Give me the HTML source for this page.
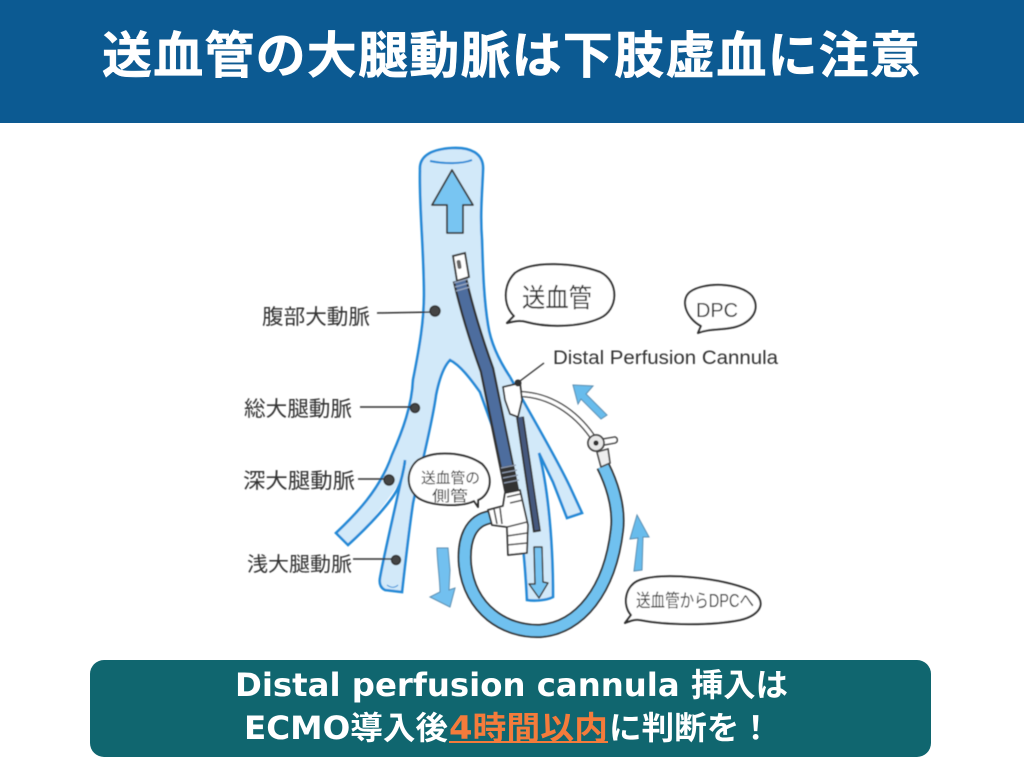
<!DOCTYPE html>
<html lang="ja">
<head>
<meta charset="utf-8">
<style>
html,body{margin:0;padding:0;background:#fff;width:1024px;height:768px;overflow:hidden}
svg{display:block}
.hand{font-family:"Liberation Sans","Noto Sans CJK JP",sans-serif;fill:#333;font-weight:400}
.ti{font-family:"Liberation Sans","Noto Sans CJK JP",sans-serif;font-weight:700;fill:#fff}
.bt{font-family:"DejaVu Sans","Noto Sans CJK JP",sans-serif;font-weight:700;fill:#fff}
</style>
</head>
<body>
<svg width="1024" height="768" viewBox="0 0 1024 768" xmlns="http://www.w3.org/2000/svg">
<defs><filter id="b" x="-5%" y="-5%" width="110%" height="110%"><feGaussianBlur stdDeviation="0.5"/></filter></defs>
<rect width="1024" height="768" fill="#fff"/>
<rect width="1024" height="123" fill="#0c5a92"/>
<text class="ti" x="102" y="73" font-size="50" textLength="818" lengthAdjust="spacing" stroke="#fff" stroke-width="0.5">送血管の大腿動脈は下肢虚血に注意</text>

<g filter="url(#b)">
<!-- vessels -->
<path d="M420 170C419 154 435 149 452 148C470 147 484 153 483 170C482 195 480 215 482 240C483 275 484 300 488 325C491 345 500 362 510 377C525 405 555 455 570 487L582 513L567 518L553 482L539 453C546 480 553 530 553 597C545 601 533 601 527 600C525 560 520 500 508 470L480 392C470 378 460 365 450 360C442 368 438 385 436 395C432 425 420 470 413 503C409 530 405 565 402 592L385 590C381 588 379 584 380 578C385 550 395 510 402 478C392 495 370 525 348 545L336 533C355 515 380 490 392 455C403 430 412 405 413 380C420 345 424 320 424 295C424 250 419 205 420 170Z" fill="#d2e9f9" stroke="none"/>
<path d="M420 170C419 154 435 149 452 148C470 147 484 153 483 170C482 195 480 215 482 240C483 275 484 300 488 325C491 345 500 362 510 377" fill="none" stroke="#2389d6" stroke-width="2.6"/>
<path d="M420 170C419 205 424 250 424 295C424 320 420 345 413 380C412 405 403 430 392 455C380 490 355 515 336 533L348 545C370 525 390 503 397 490C402 480 404 470 405 460" fill="none" stroke="#2389d6" stroke-width="2.6"/>
<path d="M405 462C395 510 385 550 380 578C379 584 381 588 385 590L402 592C405 565 409 530 413 503C420 470 432 425 436 395C438 385 442 368 450 360C460 365 470 378 480 392L508 470C520 500 525 560 527 600C533 601 545 601 553 597C553 530 546 480 539 453L553 482L567 518L582 513L570 487C555 455 525 405 510 377" fill="none" stroke="#2389d6" stroke-width="2.6"/>
<path d="M430 161C445 164 462 164 472 160" fill="none" stroke="#2389d6" stroke-width="2"/>
<path d="M387 585C391 588 395 588 398 585" fill="none" stroke="#2389d6" stroke-width="1"/>

<!-- up arrow -->
<path d="M452 170L473 205L463 205L463 233L447 233L447 205L432 205Z" fill="#78c5f2" stroke="#3a3a3a" stroke-width="1.8" stroke-linejoin="round"/>

<!-- aortic cannula -->
<path d="M460 280C468 315 478 345 487 370L512 492" fill="none" stroke="#333" stroke-width="15"/>
<path d="M460 280C468 315 478 345 487 370L507 466" fill="none" stroke="#4e6d9e" stroke-width="10.5"/>
<path d="M453 256L465 253L469 277L457 281Z" fill="#fff" stroke="#3a3a3a" stroke-width="2"/>
<rect x="457" y="260" width="4" height="9" rx="2" fill="#666" transform="rotate(-10 459 264)"/>
<path d="M454 283L468 279M455 287L469 283M456 291L470 287" stroke="#9aa8c0" stroke-width="1.2"/>
<path d="M501 468L516 465M502 473L517 470M503 478L518 475M504 483L519 480" stroke="#8f9bb0" stroke-width="1.2"/>

<!-- loop tube -->
<path d="M491 517C470 520 463 540 465 565C470 610 505 632 540 631C580 628 610 590 617 530C620 505 610 480 603 466" fill="none" stroke="#2e2e2e" stroke-width="14"/>
<path d="M491 517C470 520 463 540 465 565C470 610 505 632 540 631C580 628 610 590 617 530C620 505 610 480 603 466" fill="none" stroke="#70c1ef" stroke-width="10.5"/>

<!-- connector -->
<path d="M488 510L503 506L505 493L520 490L528 525L527 553L508 555L507 527L492 525Z" fill="#fff" stroke="#333" stroke-width="1.8" stroke-linejoin="round"/>
<path d="M494 509L497 524M500 508L502 524M507 527L527 522M507 536L527 533M507 545L527 543M510 503L523 500M507 497L520 494" stroke="#444" stroke-width="1.6" fill="none"/>

<!-- DPC thin -->
<path d="M520 417L537 532" stroke="#333" stroke-width="8" fill="none"/>
<path d="M520 417L537 530" stroke="#44587e" stroke-width="4.5" fill="none"/>
<path d="M520 394C550 395 575 412 592 436" fill="none" stroke="#333" stroke-width="6"/>
<path d="M520 394C550 395 575 412 592 436" fill="none" stroke="#fff" stroke-width="3.4"/>
<path d="M503 387L520 383L522 400L518 417L510 414L505 400Z" fill="#fff" stroke="#333" stroke-width="1.8" stroke-linejoin="round"/>
<circle cx="518" cy="383" r="3.5" fill="#333"/>
<path d="M520 381L544 363" stroke="#333" stroke-width="1.4"/>

<!-- clamp -->
<path d="M597 452L608 449L610 463L601 467Z" fill="#eee" stroke="#444" stroke-width="1.6"/>
<path d="M603 439L615 437C618 438 618 442 615 443L604 445Z" fill="#fff" stroke="#444" stroke-width="1.6" stroke-linejoin="round"/>
<circle cx="596" cy="443" r="8" fill="#e8e8e8" stroke="#444" stroke-width="1.8"/>
<circle cx="596" cy="443" r="2.6" fill="#333"/>

<!-- flow arrows -->
<path d="M437 548L448 548L450 570L449 590L455 588L450 607L430 597L440 592C440 580 437 560 437 548Z" fill="#72c0ef" stroke="#5b8db0" stroke-width="1"/>
<path d="M534 547L542 547L543 582L548 583L539 598L529 584L535 584Z" fill="#78c5f2" stroke="#3a3a3a" stroke-width="1.5" stroke-linejoin="round"/>
<path d="M637 515L649 537L643 537L642 570L634 571L638 538L630 539Z" fill="#68bcec" stroke="#5b8db0" stroke-width="1"/>
<path d="M573 385L593 386L586 394L607 415L601 419L581 399L578 404Z" fill="#68bcec" stroke="#5b8db0" stroke-width="1"/>

<!-- leader dots and lines -->
<g stroke="#333" stroke-width="1.5" fill="#444">
<path d="M377 313L435 312" fill="none"/><circle cx="435" cy="311" r="5"/>
<path d="M360 407L415 407" fill="none"/><circle cx="415" cy="408" r="4.5"/>
<path d="M358 479L388 479" fill="none"/><circle cx="389" cy="480" r="5"/>
<path d="M353 559L396 559" fill="none"/><circle cx="396" cy="560" r="4.5"/>
</g>

<!-- bubbles -->
<g fill="#fff" stroke="#2e2e2e" stroke-width="2" stroke-linejoin="round">
<path d="M507 323L514 316C503 305 503 285 515 273C533 260 575 263 600 272C620 282 618 310 600 318C578 328 545 327 527 322C520 320 515 321 507 323Z"/>
<path d="M698 333L701 326C686 318 680 300 690 292C703 282 740 282 752 296C762 310 750 325 730 328C718 330 708 329 698 333Z"/>
<path d="M478 507L474 501C462 507 435 506 422 500C405 492 405 470 418 460C435 450 465 452 482 464C495 477 490 495 478 500Z"/>
<path d="M625 623L631 615C622 605 625 585 640 580C665 572 720 578 750 590C768 600 762 615 740 620C710 626 665 625 640 620C635 619 630 621 625 623Z"/>
</g>

<!-- hand labels -->
<text class="hand" x="262" y="324" font-size="21" textLength="108" lengthAdjust="spacingAndGlyphs">腹部大動脈</text>
<text class="hand" x="244" y="416" font-size="21" textLength="108" lengthAdjust="spacingAndGlyphs">総大腿動脈</text>
<text class="hand" x="243" y="488" font-size="21" textLength="112" lengthAdjust="spacingAndGlyphs">深大腿動脈</text>
<text class="hand" x="247" y="571" font-size="20" textLength="105" lengthAdjust="spacingAndGlyphs">浅大腿動脈</text>
<text class="hand" x="522" y="307" font-size="26" textLength="70" lengthAdjust="spacingAndGlyphs">送血管</text>
<text class="hand" x="696" y="317" font-size="20" textLength="42" lengthAdjust="spacingAndGlyphs">DPC</text>
<text class="hand" x="553" y="364" font-size="19" textLength="225" lengthAdjust="spacingAndGlyphs">Distal Perfusion Cannula</text>
<text class="hand" x="421" y="483" font-size="15" textLength="59" lengthAdjust="spacingAndGlyphs">送血管の</text>
<text class="hand" x="432" y="501" font-size="15" textLength="36" lengthAdjust="spacingAndGlyphs">側管</text>
<text class="hand" x="636" y="607" font-size="18" textLength="118" lengthAdjust="spacingAndGlyphs">送血管からDPCへ</text>
</g>

<!-- bottom box -->
<rect x="90" y="660" width="841" height="97" rx="14" fill="#10666f"/>
<text class="bt" x="235" y="696" font-size="32" textLength="553" lengthAdjust="spacingAndGlyphs">Distal perfusion cannula 挿入は</text>
<text class="bt" x="244" y="739" font-size="32" textLength="204" lengthAdjust="spacingAndGlyphs">ECMO導入後</text>
<text class="bt" x="449" y="739" font-size="32" textLength="159" lengthAdjust="spacingAndGlyphs" style="fill:#f47b3b">4時間以内</text>
<rect x="449" y="741" width="159" height="2" fill="#f47b3b"/>
<text class="bt" x="609" y="739" font-size="32" textLength="163" lengthAdjust="spacingAndGlyphs">に判断を！</text>
</svg>
</body>
</html>
